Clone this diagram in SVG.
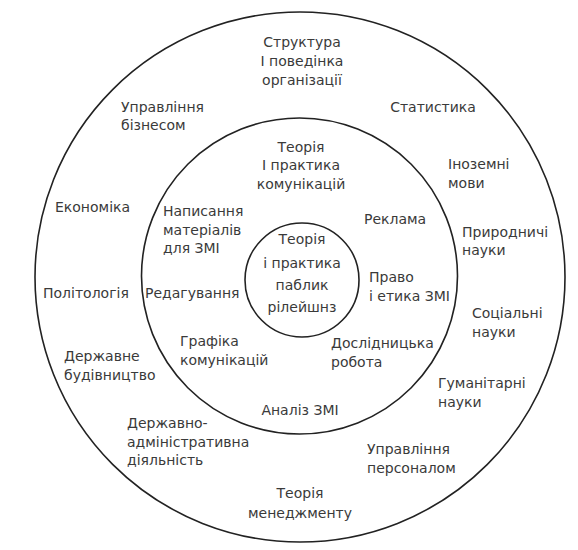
<svg xmlns="http://www.w3.org/2000/svg" width="578" height="550" viewBox="0 0 578 550">
<style>
.ring{fill:none;stroke:#222;stroke-width:1.6}
text{font-family:"DejaVu Sans","Liberation Sans",sans-serif;font-size:14px;fill:#3a3a3a}
.m{text-anchor:middle}
</style>
<rect width="578" height="550" fill="#fff"/>
<g id="rings">
<circle id="outer" class="ring" cx="300" cy="277" r="265"/>
<circle id="middle" class="ring" cx="299.5" cy="276" r="158"/>
<circle id="inner" class="ring" cx="302" cy="280" r="57"/>
</g>
<g id="connectors"></g>
<g id="core"><text class="m" x="302" y="244">Теорія</text><text class="m" x="302" y="268">і практика</text><text class="m" x="302" y="290">паблик</text><text class="m" x="302" y="312">рілейшнз</text></g>
<g id="n-komunikatsii"><text class="m" x="301" y="152">Теорія</text><text class="m" x="301" y="170">І практика</text><text class="m" x="301" y="189">комунікацій</text></g>
<g id="n-napysannia"><text x="163" y="216">Написання</text><text x="163" y="235">матеріалів</text><text x="163" y="253">для ЗМІ</text></g>
<g id="n-reklama"><text x="364" y="224">Реклама</text></g>
<g id="n-redaguvannia"><text x="145" y="298">Редагування</text></g>
<g id="n-pravo"><text x="369" y="282">Право</text><text x="369" y="301">і етика ЗМІ</text></g>
<g id="n-grafika"><text x="180" y="346">Графіка</text><text x="180" y="365">комунікацій</text></g>
<g id="n-doslidnytska"><text x="331" y="348">Дослідницька</text><text x="331" y="367">робота</text></g>
<g id="n-analiz"><text class="m" x="300" y="415">Аналіз ЗМІ</text></g>
<g id="n-struktura"><text class="m" x="302" y="47">Структура</text><text class="m" x="302" y="66">І поведінка</text><text class="m" x="302" y="85">організації</text></g>
<g id="n-statystyka"><text class="m" x="433" y="112">Статистика</text></g>
<g id="n-upr-biznes"><text x="121" y="112">Управління</text><text x="121" y="130">бізнесом</text></g>
<g id="n-inozemni"><text x="448" y="169">Іноземні</text><text x="448" y="188">мови</text></g>
<g id="n-ekonomika"><text x="55" y="212">Економіка</text></g>
<g id="n-pryrodnychi"><text x="462" y="237">Природничі</text><text x="462" y="255">науки</text></g>
<g id="n-politologiia"><text x="43" y="298">Політологія</text></g>
<g id="n-sotsialni"><text x="472" y="318">Соціальні</text><text x="472" y="337">науки</text></g>
<g id="n-derzhavne"><text x="64" y="361">Державне</text><text x="64" y="380">будівництво</text></g>
<g id="n-gumanitarni"><text x="438" y="388">Гуманітарні</text><text x="438" y="407">науки</text></g>
<g id="n-derzh-admin"><text x="127" y="428">Державно-</text><text x="127" y="447">адміністративна</text><text x="127" y="465">діяльність</text></g>
<g id="n-upr-personal"><text x="367" y="454">Управління</text><text x="367" y="473">персоналом</text></g>
<g id="n-menedzhment"><text class="m" x="300" y="498">Теорія</text><text class="m" x="300" y="518">менеджменту</text></g>
</svg>
